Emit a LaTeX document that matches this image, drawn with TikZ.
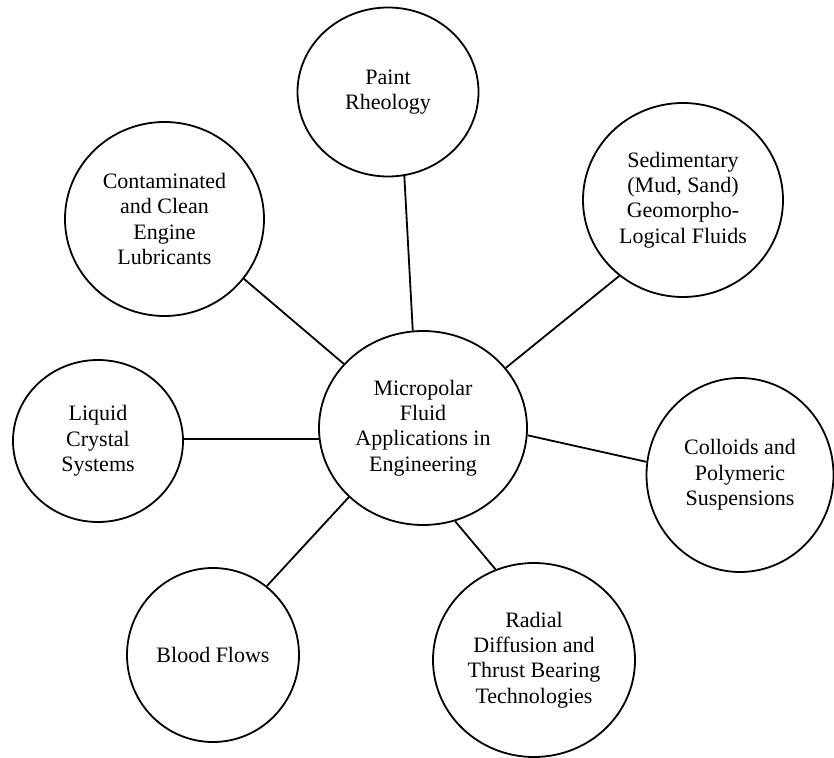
\documentclass[tikz,border=0pt]{standalone}
\usepackage{fontspec}
\setmainfont{Liberation Serif}
\usepackage{tikz}
\usetikzlibrary{positioning,shapes.geometric}

\begin{document}
\begin{tikzpicture}[
  x=0.5pt, y=-0.5pt,
  every node/.style={font=\fontsize{11}{12.7}\selectfont},
  bubble/.style={draw=black, ellipse, line width=0.9pt, inner sep=0pt, align=center},
  link/.style={draw=black, line width=0.9pt}
]
\useasboundingbox (0,0) rectangle (834,758);

% Central topic
\node[bubble, minimum width=104pt, minimum height=97pt] (core) at (423,428) {Micropolar\\Fluid\\Applications in\\Engineering};

% Application areas
\node[bubble, minimum width=90.5pt, minimum height=84.5pt] (paint) at (388,92) {Paint\\Rheology};
\node[bubble, minimum width=99.5pt, minimum height=97pt] (engine) at (164.5,219) {Contaminated\\and Clean\\Engine\\Lubricants};
\node[bubble, minimum width=100pt, minimum height=97pt] (sediment) at (683,200) {Sedimentary\\(Mud, Sand)\\Geomorpho-\\Logical Fluids};
\node[bubble, minimum width=85pt, minimum height=81pt] (crystal) at (98,441) {Liquid\\Crystal\\Systems};
\node[bubble, minimum width=93.5pt, minimum height=97pt] (colloid) at (740,475) {Colloids and\\Polymeric\\Suspensions};
\node[bubble, minimum width=86pt, minimum height=87pt] (blood) at (213,655) {Blood Flows};
\node[bubble, minimum width=101pt, minimum height=97pt] (bearing) at (534,660) {Radial\\Diffusion and\\Thrust Bearing\\Technologies};

% Connectors
\draw[link] (paint.-79) -- (core.96);
\draw[link] (engine.-37) -- (core.141);
\draw[link] (sediment.230) -- (core.36);
\draw[link] (core.186) -- (core.186 -| crystal.east);
\draw[link] (colloid.172) -- (core.-4);
\draw[link] (blood.52) -- (core.-137);
\draw[link] (bearing.113) -- (core.-71);
\end{tikzpicture}
\end{document}
